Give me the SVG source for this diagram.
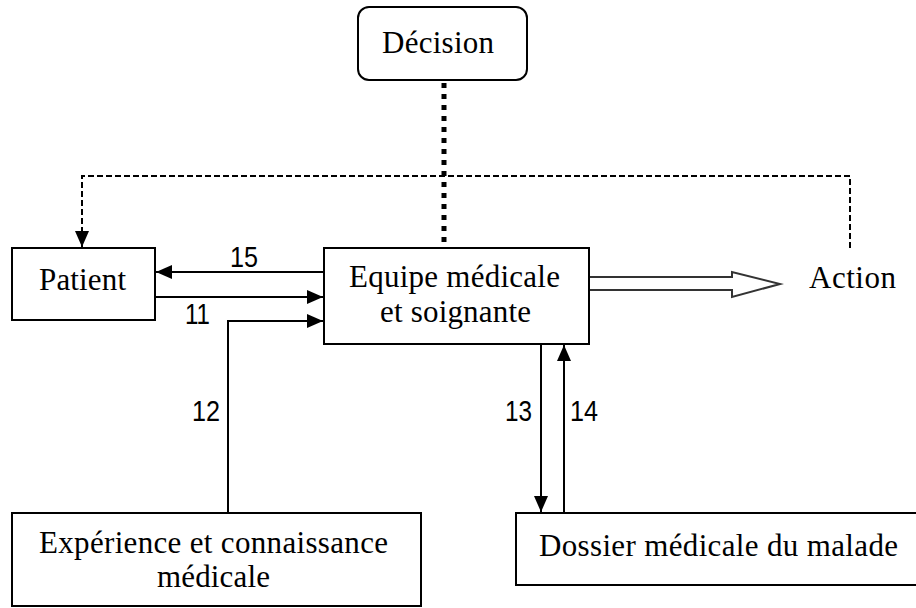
<svg xmlns="http://www.w3.org/2000/svg" width="916" height="608" viewBox="0 0 916 608">
  <style>
    .box { fill: #ffffff; stroke: #000000; stroke-width: 2; }
    .lbl { font-family: "Liberation Serif", "Times New Roman", serif; font-size: 31px; fill: #000000; }
    .num { font-family: "Liberation Sans", Arial, sans-serif; font-size: 29px; fill: #000000; }
    .wire { fill: none; stroke: #000000; stroke-width: 2; }
    .dash { fill: none; stroke: #000000; stroke-width: 2; stroke-dasharray: 6 3; }
    .dots { fill: none; stroke: #000000; stroke-width: 5; stroke-dasharray: 5 6; }
    .hollow { fill: #ffffff; stroke: #333333; stroke-width: 2; stroke-linejoin: miter; }
  </style>
  <defs>
    <marker id="head" viewBox="0 0 16 14" markerUnits="userSpaceOnUse" markerWidth="16" markerHeight="14" refX="16" refY="7" orient="auto">
      <path d="M0,0 L16,7 L0,14 Z" fill="#000000"/>
    </marker>
  </defs>
  <rect width="916" height="608" fill="#ffffff"/>

  <g id="connectors">
    <!-- decision link -->
    <line class="dots" x1="444" y1="83" x2="444" y2="242"/>
    <!-- feedback from action to patient -->
    <path class="dash" d="M850,248 V176 H82 V247" marker-end="url(#head)"/>
    <!-- 15 : team to patient -->
    <line class="wire" x1="324" y1="272" x2="156" y2="272" marker-end="url(#head)"/>
    <!-- 11 : patient to team -->
    <line class="wire" x1="156" y1="297" x2="323" y2="297" marker-end="url(#head)"/>
    <!-- 12 : knowledge to team -->
    <path class="wire" d="M228,513 V321 H323" marker-end="url(#head)"/>
    <!-- 13 : team to record -->
    <line class="wire" x1="541" y1="345" x2="541" y2="512" marker-end="url(#head)"/>
    <!-- 14 : record to team -->
    <line class="wire" x1="564" y1="513" x2="564" y2="345" marker-end="url(#head)"/>
    <!-- hollow arrow toward action -->
    <path class="hollow" d="M588,277 H732 V272 L780,284 L732,297 V290 H588 Z"/>
    <text class="num" x="230" y="267" textLength="28" lengthAdjust="spacingAndGlyphs">15</text>
    <text class="num" x="185" y="324" textLength="25" lengthAdjust="spacingAndGlyphs">11</text>
    <text class="num" x="192" y="421" textLength="28" lengthAdjust="spacingAndGlyphs">12</text>
    <text class="num" x="505" y="421" textLength="27" lengthAdjust="spacingAndGlyphs">13</text>
    <text class="num" x="570" y="421" textLength="28" lengthAdjust="spacingAndGlyphs">14</text>
  </g>

  <g id="decision">
    <rect class="box" x="358" y="7" width="169" height="73" rx="11" ry="11"/>
    <text class="lbl" x="382" y="53" textLength="112">Décision</text>
  </g>

  <g id="patient">
    <rect class="box" x="12" y="248" width="143" height="72"/>
    <text class="lbl" x="39" y="290" textLength="87">Patient</text>
  </g>

  <g id="equipe">
    <rect class="box" x="324" y="248" width="265" height="96"/>
    <text class="lbl" x="349" y="287" textLength="211">Equipe médicale</text>
    <text class="lbl" x="380" y="322" textLength="151">et soignante</text>
  </g>

  <g id="action">
    <text class="lbl" x="809" y="288" textLength="87">Action</text>
  </g>

  <g id="experience">
    <rect class="box" x="12" y="513" width="409" height="93"/>
    <text class="lbl" x="39" y="553" textLength="349">Expérience et connaissance</text>
    <text class="lbl" x="157" y="587" textLength="113">médicale</text>
  </g>

  <g id="dossier">
    <rect class="box" x="516" y="513" width="404" height="72"/>
    <text class="lbl" x="539" y="556" textLength="359">Dossier médicale du malade</text>
  </g>
</svg>
